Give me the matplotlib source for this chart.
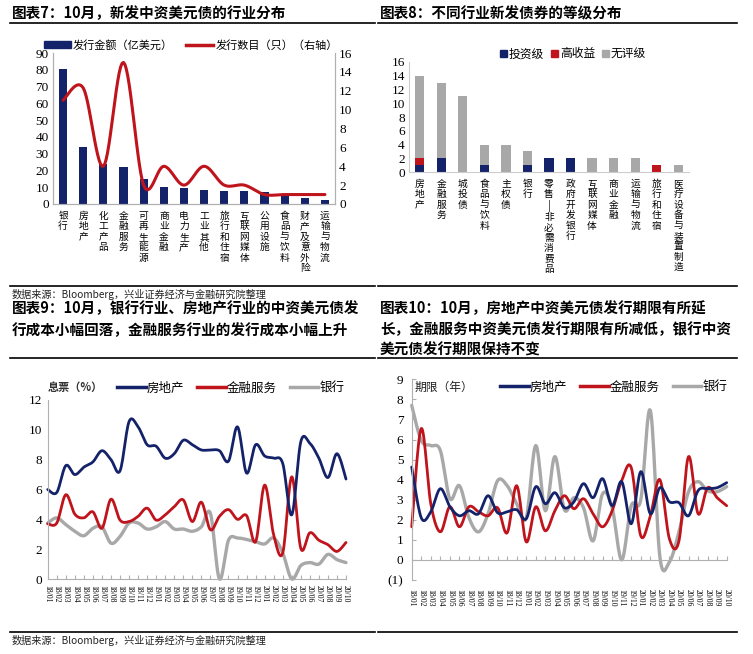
import numpy as np
import matplotlib
matplotlib.use("Agg")
import matplotlib.pyplot as plt
from matplotlib.lines import Line2D
from matplotlib.patches import Patch

plt.rcParams['font.family'] = ['Noto Sans CJK SC', 'DejaVu Sans']
plt.rcParams['axes.unicode_minus'] = False

W, H = 753, 654
SERIF = ['Liberation Serif', 'DejaVu Serif']

# ---------------- data ----------------
# Chart 7
ind7 = ['银行', '房地产', '化工产品', '金融服务', '可再生能源', '商业金融', '电力生产',
        '工业其他', '旅行和住宿', '互联网媒体', '公用设施', '食品与饮料', '财产及意外险', '运输与物流']
amount7 = [80.5, 33.7, 24.0, 22.0, 14.8, 10.2, 9.4, 8.3, 7.9, 7.6, 7.0, 5.0, 3.7, 2.5]
count7 = [11, 12.3, 4, 15, 2, 4, 2, 4, 2, 2, 1, 1, 1, 1]

# Chart 8
ind8 = ['房地产', '金融服务', '城投债', '食品与饮料', '主权债', '银行', '零售|非必需消费品',
        '政府开发银行', '互联网媒体', '商业金融', '运输与物流', '旅行和住宿', '医疗设备与装置制造']
ig8 = [1, 2, 0, 1, 0, 1, 2, 2, 0, 0, 0, 0, 0]
hy8 = [1, 0, 0, 0, 0, 0, 0, 0, 0, 0, 0, 1, 0]
nr8 = [12, 11, 11, 3, 4, 2, 0, 0, 2, 2, 2, 0, 1]

# Months (shared by chart 9 and 10)
months = ['18/01', '18/02', '18/03', '18/04', '18/05', '18/06', '18/07', '18/08', '18/09',
          '18/10', '18/11', '18/12', '19/01', '19/02', '19/03', '19/04', '19/05', '19/06',
          '19/07', '19/08', '19/09', '19/10', '19/11', '19/12', '20/01', '20/02', '20/03',
          '20/04', '20/05', '20/06', '20/07', '20/08', '20/09', '20/10']

# Chart 9: coupon (%)
cpn_re = [6.0, 5.8, 7.6, 7.0, 7.5, 7.85, 8.6, 8.0, 7.25, 10.55, 10.2, 9.0, 8.9, 8.1, 8.4,
          9.3, 9.0, 8.65, 8.65, 8.6, 7.9, 10.2, 7.1, 9.0, 8.25, 8.1, 7.75, 4.3, 9.2, 9.1,
          8.1, 6.8, 8.4, 6.7]
cpn_fs = [3.7, 3.75, 5.65, 4.35, 4.1, 4.5, 3.4, 5.35, 3.95, 3.85, 4.2, 4.75, 3.95, 4.3,
          4.85, 5.3, 3.85, 5.15, 3.3, 4.2, 4.65, 4.0, 4.25, 2.5, 6.3, 2.95, 1.75, 6.85,
          2.05, 3.1, 2.6, 2.3, 1.85, 2.45]
cpn_bk = [3.75, 4.1, 3.65, 3.2, 2.9, 3.4, 3.5, 2.4, 2.85, 3.75, 3.75, 3.35, 3.5, 3.85,
          3.35, 3.35, 3.2, 3.5, 4.4, 0.0, 2.6, 2.75, 2.65, 2.5, 2.35, 2.75, 1.75, 0.0,
          0.9, 1.1, 1.0, 1.65, 1.3, 1.1]

# Chart 10: tenor (years)
ten_re = [4.63, 2.1, 2.4, 3.55, 2.65, 2.2, 2.45, 2.3, 3.2, 2.35, 2.4, 2.5, 2.05, 3.65,
          2.8, 3.35, 2.6, 2.9, 3.8, 3.1, 4.05, 2.7, 3.9, 1.8, 4.4, 2.3, 3.6, 2.9, 2.85,
          2.2, 3.45, 3.55, 3.6, 3.85]
ten_fs = [1.65, 6.55, 2.8, 1.4, 2.65, 1.65, 2.65, 2.4, 2.2, 2.6, 1.35, 3.7, 0.9, 2.65,
          1.45, 2.45, 3.2, 2.55, 3.05, 2.3, 1.65, 2.45, 3.95, 4.6, 1.2, 2.2, 4.0, 1.05,
          0.95, 5.15, 2.3, 3.6, 3.1, 2.7]
ten_bk = [7.7, 5.95, 5.7, 5.45, 3.05, 3.7, 2.1, 1.4, 2.3, 3.95, 3.7, 2.8, 2.1, 5.7, 2.45,
          5.15, 2.5, 3.1, 2.6, 0.95, 3.3, 2.6, 0.0, 2.7, 3.0, 7.45, 0.15, -0.1, 1.4, 3.4,
          3.9, 3.45, 3.4, 3.65]

titles = {
    7: ['图表7：10月，新发中资美元债的行业分布'],
    8: ['图表8：不同行业新发债券的等级分布'],
    9: ['图表9：10月，银行行业、房地产行业的中资美元债发',
        '行成本小幅回落，金融服务行业的发行成本小幅上升'],
    10: ['图表10：10月，房地产中资美元债发行期限有所延',
         '长，金融服务中资美元债发行期限有所减低，银行中资',
         '美元债发行期限保持不变'],
}
source = '数据来源：Bloomberg，兴业证券经济与金融研究院整理'

NAVY = '#14226a'
RED = '#c0141c'
GRAY = '#a8a8a8'
AXC = '#b0b0b0'


def smooth(x, y, n=14):
    pts = np.column_stack([np.asarray(x, float), np.asarray(y, float)])
    P = np.vstack([pts[0], pts, pts[-1]])
    t = np.linspace(0, 1, n, endpoint=False)[:, None]
    out = []
    for i in range(1, len(P) - 2):
        p0, p1, p2, p3 = P[i - 1], P[i], P[i + 1], P[i + 2]
        c1 = p1 + (p2 - p0) / 6.0
        c2 = p2 - (p3 - p1) / 6.0
        seg = (1 - t) ** 3 * p1 + 3 * (1 - t) ** 2 * t * c1 + 3 * (1 - t) * t ** 2 * c2 + t ** 3 * p2
        out.append(seg)
    out.append(pts[-1:])
    a = np.vstack(out)
    return a[:, 0], a[:, 1]


def box(x0, y0, x1, y1):
    return [x0 / W, 1 - y1 / H, (x1 - x0) / W, (y1 - y0) / H]


def vert(s):
    return '\n'.join(list(s))


fig = plt.figure(figsize=(W / 100, H / 100), dpi=100)
fig.patch.set_facecolor('white')


def hline(y, x0, x1, lw=1.2):
    fig.add_artist(Line2D([x0 / W, x1 / W], [1 - y / H, 1 - y / H], color='black', lw=lw,
                          transform=fig.transFigure))


def ftext(x, y, s, **kw):
    fig.text(x / W, 1 - y / H, s, **kw)


# titles & rules
for i, line in enumerate(titles[7]):
    ftext(12, 13 + 21 * i, line, fontsize=10.5, fontweight='bold', va='center')
for i, line in enumerate(titles[8]):
    ftext(380, 13 + 21 * i, line, fontsize=10.5, fontweight='bold', va='center')
for i, line in enumerate(titles[9]):
    ftext(12, 308 + 22 * i, line, fontsize=10.5, fontweight='bold', va='center')
for i, line in enumerate(titles[10]):
    ftext(380, 308 + 21 * i, line, fontsize=10.5, fontweight='bold', va='center')

hline(22.7, 10, 375)
hline(22.7, 378, 737)
hline(286, 10, 375)
hline(286, 378, 737)
hline(358.3, 10, 375)
hline(358.3, 378, 737)
hline(631.7, 10, 375)
hline(631.7, 378, 737)
ftext(12, 294, source, fontsize=7.3, va='center', color='#222222')
ftext(12, 640, source, fontsize=7.3, va='center', color='#222222')

# ---------------- chart 7 ----------------
ax7 = fig.add_axes(box(53, 53, 335, 204))
x7 = np.arange(len(ind7))
ax7.bar(x7, amount7, width=0.4, color=NAVY, zorder=2)
ax7.set_xlim(-0.5, len(ind7) - 0.5)
ax7.set_ylim(0, 90)
ax7.set_yticks(np.arange(0, 91, 10))
ax7.set_xticks(x7)
ax7.set_xticklabels([vert(s) for s in ind7], fontsize=7, linespacing=1.05, va='top')
ax7.tick_params(axis='x', length=0, pad=5)
ax7.tick_params(axis='y', length=0, pad=3)
for lab in ax7.get_yticklabels():
    lab.set_fontfamily(SERIF)
    lab.set_fontsize(9.5)
for sp in ['top']:
    ax7.spines[sp].set_visible(False)
for sp in ['left', 'right', 'bottom']:
    ax7.spines[sp].set_color(AXC)
ax7r = ax7.twinx()
sx, sy = smooth(x7, count7)
ax7r.plot(sx, sy, color=RED, lw=2.2, zorder=3, solid_capstyle='round')
ax7r.set_ylim(0, 16)
ax7r.set_yticks(np.arange(0, 17, 2))
ax7r.tick_params(axis='y', length=0, pad=3)
for lab in ax7r.get_yticklabels():
    lab.set_fontfamily(SERIF)
    lab.set_fontsize(9.5)
ax7r.spines['top'].set_visible(False)
for sp in ['left', 'right', 'bottom']:
    ax7r.spines[sp].set_color(AXC)
h7 = [Patch(color=NAVY), Line2D([0], [0], color=RED, lw=2.5)]
fig.legend(h7, ['发行金额（亿美元）', '发行数目（只）（右轴）'], loc='center left',
           bbox_to_anchor=(44 / W, 1 - 45 / H), ncol=2, frameon=False, fontsize=8,
           handlelength=2.4, handleheight=0.55, handletextpad=0.2, columnspacing=1.2,
           borderaxespad=0, borderpad=0)

# ---------------- chart 8 ----------------
ax8 = fig.add_axes(box(409, 62, 689, 172))
x8 = np.arange(len(ind8))
ig = np.array(ig8, float)
hy = np.array(hy8, float)
nr = np.array(nr8, float)
ax8.bar(x8, ig, width=0.43, color=NAVY, zorder=2)
ax8.bar(x8, hy, bottom=ig, width=0.43, color=RED, zorder=2)
ax8.bar(x8, nr, bottom=ig + hy, width=0.43, color=GRAY, zorder=2)
ax8.set_xlim(-0.5, len(ind8) - 0.5)
ax8.set_ylim(0, 16)
ax8.set_yticks(np.arange(0, 17, 2))
ax8.set_xticks(x8)
ax8.set_xticklabels([vert(s) for s in ind8], fontsize=7, linespacing=1.05, va='top')
ax8.tick_params(axis='x', length=0, pad=5)
ax8.tick_params(axis='y', length=0, pad=3)
for lab in ax8.get_yticklabels():
    lab.set_fontfamily(SERIF)
    lab.set_fontsize(9.5)
for sp in ['top', 'right']:
    ax8.spines[sp].set_visible(False)
for sp in ['left', 'bottom']:
    ax8.spines[sp].set_color('#cccccc')
h8 = [Patch(color=NAVY), Patch(color=RED), Patch(color=GRAY)]
fig.legend(h8, ['投资级', '高收益', '无评级'], loc='center', bbox_to_anchor=(573 / W, 1 - 54 / H),
           ncol=3, frameon=False, fontsize=8.5, handlelength=0.6, handleheight=0.6,
           handletextpad=0.15, columnspacing=0.6, borderaxespad=0, borderpad=0)

# ---------------- chart 9 ----------------
ax9 = fig.add_axes(box(47.7, 400, 346, 579))
xm = np.arange(len(months))
for ys, c, lw in [(cpn_bk, GRAY, 2.4), (cpn_fs, RED, 2.0), (cpn_re, NAVY, 2.0)]:
    sx, sy = smooth(xm, ys)
    ax9.plot(sx, sy, color=c, lw=lw, solid_capstyle='round', clip_on=False)
ax9.set_xlim(0, len(months) - 1)
ax9.set_ylim(0, 12)
ax9.set_yticks(np.arange(0, 13, 2))
ax9.set_xticks(xm)
ax9.set_xticklabels(months, rotation=270, fontsize=5.6, fontfamily=SERIF, va='top', ha='center')
ax9.tick_params(axis='x', direction='in', length=3, color=AXC, pad=4)
ax9.tick_params(axis='y', length=0, pad=4)
for lab in ax9.get_yticklabels():
    lab.set_fontfamily(SERIF)
    lab.set_fontsize(9.5)
for sp in ['top', 'right']:
    ax9.spines[sp].set_visible(False)
for sp in ['left', 'bottom']:
    ax9.spines[sp].set_color(AXC)
ftext(48, 387, '息票（%）', fontsize=8, fontweight='bold', va='center', color='#333333')
h9 = [Line2D([0], [0], color=NAVY, lw=2.5), Line2D([0], [0], color=RED, lw=2.5),
      Line2D([0], [0], color=GRAY, lw=2.5)]
fig.legend(h9, ['房地产', '金融服务', '银行'], loc='center left', bbox_to_anchor=(117 / W, 1 - 388 / H),
           ncol=3, frameon=False, fontsize=9, handlelength=2.3, handletextpad=0.1,
           columnspacing=1.0, borderaxespad=0, borderpad=0)

# ---------------- chart 10 ----------------
ax10 = fig.add_axes(box(411.7, 379.3, 726.7, 580))
for ys, c, lw in [(ten_bk, GRAY, 2.4), (ten_fs, RED, 2.0), (ten_re, NAVY, 2.0)]:
    sx, sy = smooth(xm, ys)
    ax10.plot(sx, sy, color=c, lw=lw, solid_capstyle='round', clip_on=False)
ax10.set_xlim(0, len(months) - 1)
ax10.set_ylim(-1, 9)
yt = np.arange(-1, 10, 1)
ax10.set_yticks(yt)
ax10.set_yticklabels(['(1)' if v < 0 else str(v) for v in yt], fontfamily=SERIF, fontsize=9.5)
ax10.spines['bottom'].set_position(('data', 0))
ax10.set_xticks(xm)
ax10.set_xticklabels(months, rotation=270, fontsize=5.6, fontfamily=SERIF, va='top', ha='center')
ax10.tick_params(axis='x', direction='in', length=3, color=AXC, pad=21)
ax10.tick_params(axis='y', direction='in', length=3, color=AXC, pad=6)
for sp in ['top', 'right']:
    ax10.spines[sp].set_visible(False)
for sp in ['left', 'bottom']:
    ax10.spines[sp].set_color(AXC)
ftext(415, 387, '期限（年）', fontsize=8.5, va='center', color='#222222')
fig.legend(h9, ['房地产', '金融服务', '银行'], loc='center left', bbox_to_anchor=(500 / W, 1 - 387 / H),
           ncol=3, frameon=False, fontsize=9, handlelength=2.3, handletextpad=0.1,
           columnspacing=1.0, borderaxespad=0, borderpad=0)

fig.savefig('out.png', dpi=100, facecolor='white')
